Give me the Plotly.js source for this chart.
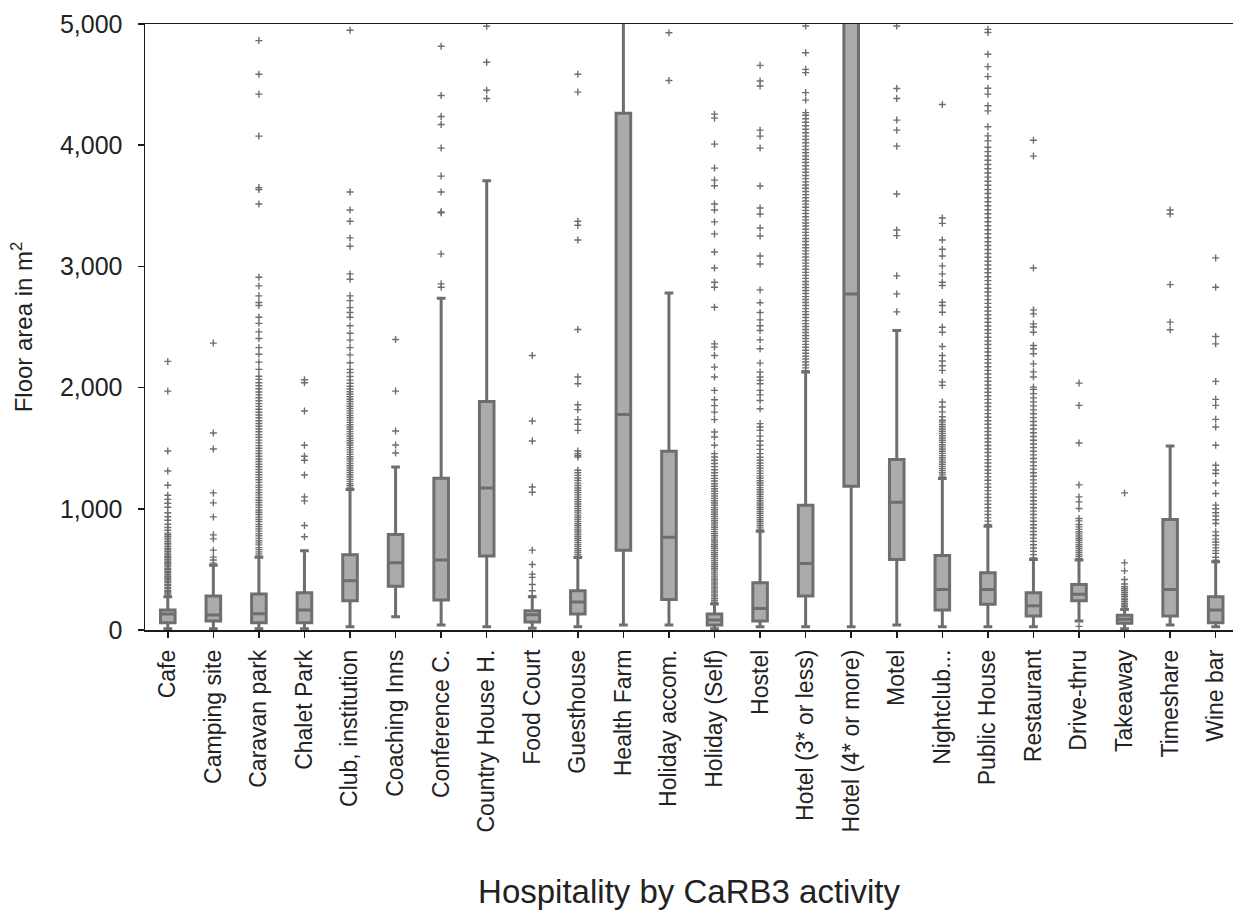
<!DOCTYPE html>
<html>
<head>
<meta charset="utf-8">
<script src="https://cdn.plot.ly/plotly-3.0.1.min.js"></script>
<style>
  html, body { margin: 0; padding: 0; background: #ffffff; }
  #chart { width: 1233px; height: 911px; }
</style>
</head>
<body>
<div id="chart"></div>
<script>
// Hospitality floor areas (m²) by CaRB3 activity: box summaries plus outliers.
const categories = ['Cafe', 'Camping site', 'Caravan park', 'Chalet Park', 'Club, institution',
  'Coaching Inns', 'Conference C.', 'Country House H.', 'Food Court', 'Guesthouse', 'Health Farm',
  'Holiday accom.', 'Holiday (Self)', 'Hostel', 'Hotel (3* or less)', 'Hotel (4* or more)', 'Motel',
  'Nightclub...', 'Public House', 'Restaurant', 'Drive-thru', 'Takeaway', 'Timeshare', 'Wine bar'];

const lowerFence = [10, 10, 10, 10, 27, 110, 41, 27, 15, 27, 41, 41, 10, 27, 27, 27, 41, 27, 27, 27, 74, 10, 41, 27];
const q1Values = [60, 74, 60, 60, 241, 362, 247, 610, 66, 132, 659, 252, 41, 74, 280, 1186, 582, 165, 212, 115, 241, 55, 115, 60];
const medianValues = [132, 124, 135, 165, 406, 554, 577, 1172, 126, 231, 1779, 766, 82, 178, 549, 2773, 1054, 335, 335, 200, 295, 88, 335, 165];
const q3Values = [165, 280, 297, 307, 620, 788, 1252, 1886, 159, 324, 4264, 1474, 132, 390, 1030, 5600, 1406, 615, 472, 307, 376, 121, 912, 275];
const upperFence = [275, 535, 600, 653, 1159, 1345, 2737, 3707, 275, 599, 9600, 2781, 214, 815, 2128, 11000, 2471, 1249, 857, 582, 577, 170, 1518, 563];

// Outliers per activity
const outCafe = [282, 296, 305, 318, 327, 341, 352, 366, 374, 389, 398, 412, 425, 437, 446, 459, 472, 484, 497, 508,
  521, 533, 547, 558, 569, 583, 596, 607, 621, 634, 648, 661, 673, 688, 702, 715, 729, 744, 758, 771, 786, 799,
  823, 846, 872, 905, 934, 968, 1013, 1046, 1078, 1112, 1194, 1312, 1477, 1971, 2216];
const outCamping = [552, 577, 601, 659, 752, 785, 933, 1049, 1131, 1494, 1625, 2367];
const outCaravan = [611, 628, 645, 663, 680, 702, 719, 737, 756, 778, 795, 816, 834, 853, 871, 894, 912, 931, 953,
  972, 990, 1012, 1031, 1052, 1070, 1093, 1115, 1134, 1156, 1177, 1195, 1218, 1240, 1259, 1281, 1302, 1324, 1347,
  1368, 1390, 1411, 1433, 1456, 1478, 1499, 1521, 1544, 1567, 1590, 1612, 1636, 1659, 1681, 1704, 1727, 1751,
  1774, 1797, 1821, 1845, 1868, 1892, 1916, 1940, 1964, 1990, 2015, 2040, 2068, 2094, 2150, 2210, 2275, 2330,
  2405, 2460, 2530, 2581, 2677, 2702, 2757, 2839, 2910, 3515, 3635, 3650, 4075, 4421, 4586, 4863];
const outChalet = [769, 862, 1065, 1098, 1279, 1400, 1433, 1524, 1807, 2040, 2065];
const outClub = [1172, 1190, 1207, 1226, 1243, 1262, 1281, 1299, 1318, 1337, 1355, 1374, 1393, 1411, 1430, 1449,
  1468, 1486, 1505, 1524, 1543, 1562, 1580, 1599, 1618, 1637, 1656, 1675, 1694, 1713, 1732, 1751, 1770, 1789,
  1808, 1827, 1846, 1866, 1885, 1904, 1924, 1945, 1966, 1988, 2011, 2036, 2062, 2091, 2124, 2150, 2205, 2270,
  2330, 2392, 2448, 2510, 2581, 2620, 2660, 2718, 2757, 2894, 2938, 3166, 3235, 3372, 3465, 3614, 4948];
const outCoaching = [1461, 1527, 1642, 1971, 2397];
const outConference = [2828, 2856, 3103, 3443, 3450, 3614, 3745, 3976, 4171, 4237, 4410, 4816];
const outCountryHouse = [4385, 4454, 4684, 4981];
const outFoodCourt = [280, 324, 376, 434, 461, 541, 659, 1137, 1180, 1559, 1724, 2265];
const outGuesthouse = [608, 624, 641, 657, 672, 690, 706, 723, 741, 757, 774, 790, 808, 825, 843, 860, 877, 895,
  913, 930, 948, 966, 984, 1003, 1021, 1040, 1058, 1077, 1096, 1115, 1134, 1153, 1172, 1192, 1212, 1233, 1254,
  1276, 1298, 1318, 1427, 1440, 1455, 1477, 1647, 1697, 1736, 1818, 1859, 2032, 2087, 2479, 3218, 3339, 3372,
  4438, 4586];
const outHealthFarm = [];
const outHolidayAccom = [4534, 4928];
const outHolidaySelf = [226, 241, 258, 273, 289, 306, 322, 339, 355, 372, 388, 405, 421, 438, 455, 471, 488, 505,
  522, 538, 555, 572, 589, 606, 623, 640, 657, 674, 691, 708, 726, 743, 760, 778, 795, 812, 830, 848, 865, 883,
  901, 919, 937, 955, 973, 992, 1010, 1029, 1048, 1067, 1086, 1105, 1125, 1145, 1165, 1186, 1207, 1229, 1251,
  1274, 1298, 1322, 1348, 1374, 1400, 1427, 1455, 1524, 1592, 1634, 1736, 1798, 1851, 1900, 1977, 2087, 2169,
  2265, 2334, 2361, 2663, 2828, 2869, 2987, 3119, 3268, 3367, 3465, 3515, 3666, 3712, 3811, 4009, 4223, 4256];
const outHostel = [826, 843, 860, 876, 893, 910, 927, 944, 961, 978, 996, 1013, 1031, 1048, 1066, 1084, 1102,
  1120, 1138, 1157, 1175, 1194, 1213, 1232, 1252, 1272, 1292, 1313, 1334, 1356, 1378, 1401, 1425, 1455, 1490,
  1524, 1560, 1600, 1647, 1675, 1703, 1826, 1894, 1940, 1977, 2032, 2060, 2087, 2128, 2202, 2320, 2394, 2471,
  2510, 2559, 2620, 2700, 2806, 3020, 3086, 3251, 3317, 3432, 3482, 3663, 3976, 4075, 4124, 4489, 4530, 4659];
const outHotel3 = [2140, 2163, 2187, 2211, 2236, 2259, 2284, 2308, 2333, 2357, 2381, 2405, 2430, 2455, 2479, 2504,
  2528, 2553, 2578, 2603, 2627, 2652, 2677, 2702, 2727, 2751, 2776, 2801, 2826, 2851, 2876, 2901, 2926, 2951,
  2977, 3002, 3027, 3052, 3078, 3103, 3128, 3154, 3179, 3205, 3230, 3256, 3281, 3307, 3333, 3358, 3384, 3410,
  3436, 3462, 3488, 3514, 3540, 3566, 3592, 3618, 3645, 3671, 3697, 3724, 3750, 3777, 3803, 3830, 3857, 3884,
  3911, 3938, 3965, 3992, 4020, 4047, 4075, 4103, 4131, 4160, 4189, 4218, 4247, 4269, 4372, 4434, 4599, 4626,
  4763, 4983];
const outHotel4 = [];
const outMotel = [2625, 2773, 2922, 3254, 3300, 3597, 3992, 4124, 4207, 4385, 4468, 4983];
const outNightclub = [1263, 1280, 1298, 1315, 1333, 1350, 1368, 1386, 1404, 1421, 1439, 1457, 1475, 1493, 1511,
  1529, 1548, 1566, 1584, 1603, 1621, 1640, 1658, 1677, 1696, 1715, 1730, 1760, 1800, 1840, 1881, 2018, 2047,
  2142, 2180, 2220, 2265, 2339, 2457, 2498, 2622, 2677, 2704, 2842, 2869, 2938, 3004, 3086, 3141, 3218, 3355,
  3399, 4336];
const outPublicHouse = [870, 898, 925, 953, 981, 1009, 1037, 1065, 1093, 1121, 1150, 1178, 1206, 1235, 1263, 1292,
  1320, 1349, 1378, 1406, 1435, 1464, 1493, 1522, 1551, 1580, 1609, 1638, 1667, 1697, 1726, 1755, 1785, 1814,
  1844, 1873, 1903, 1933, 1962, 1992, 2022, 2052, 2082, 2112, 2142, 2172, 2203, 2233, 2263, 2294, 2324, 2355,
  2385, 2416, 2447, 2477, 2508, 2539, 2570, 2601, 2632, 2663, 2695, 2726, 2757, 2789, 2820, 2852, 2883, 2915,
  2947, 2979, 3011, 3043, 3075, 3107, 3139, 3172, 3204, 3237, 3269, 3302, 3335, 3368, 3401, 3434, 3467, 3500,
  3534, 3567, 3601, 3635, 3669, 3703, 3737, 3771, 3806, 3841, 3876, 3911, 3947, 3983, 4036, 4077, 4152, 4283,
  4325, 4421, 4470, 4566, 4648, 4750, 4930, 4956];
const outRestaurant = [595, 622, 649, 676, 703, 731, 758, 786, 813, 841, 869, 897, 925, 953, 981, 1009, 1038, 1066,
  1095, 1123, 1152, 1181, 1210, 1239, 1268, 1297, 1327, 1356, 1386, 1415, 1445, 1475, 1505, 1535, 1566, 1596,
  1627, 1658, 1689, 1720, 1752, 1784, 1816, 1849, 1882, 1915, 1950, 1985, 2004, 2087, 2130, 2196, 2279, 2320,
  2347, 2457, 2500, 2526, 2608, 2641, 2987, 3910, 4041];
const outDriveThru = [30, 589, 606, 622, 639, 655, 672, 689, 706, 723, 740, 757, 775, 793, 811, 830, 851, 870, 900,
  920, 1002, 1057, 1098, 1197, 1543, 1853, 2037];
const outTakeaway = [178, 192, 206, 220, 234, 249, 263, 278, 293, 308, 324, 340, 357, 380, 417, 488, 554, 1131];
const outTimeshare = [2477, 2540, 2850, 3432, 3465];
const outWineBar = [575, 600, 632, 655, 678, 702, 726, 750, 780, 810, 879, 910, 940, 968, 1000, 1030, 1126, 1213,
  1291, 1320, 1359, 1524, 1675, 1738, 1853, 1903, 2051, 2361, 2422, 2828, 3070];

const outlierLists = [outCafe, outCamping, outCaravan, outChalet, outClub, outCoaching, outConference,
  outCountryHouse, outFoodCourt, outGuesthouse, outHealthFarm, outHolidayAccom, outHolidaySelf, outHostel,
  outHotel3, outHotel4, outMotel, outNightclub, outPublicHouse, outRestaurant, outDriveThru, outTakeaway,
  outTimeshare, outWineBar];

const yTicks = [0, 1000, 2000, 3000, 4000, 5000];

const boxLine = '#6e6e6e';
const boxFill = '#ababab';
const axisColor = '#1a1a1a';
const fontFamily = 'Liberation Sans, Arial, Helvetica, sans-serif';

// Flatten outliers into one marker trace positioned on the category axis
const outX = [];
const outY = [];
outlierLists.forEach((list, i) => {
  list.forEach(v => { outX.push(categories[i]); outY.push(v); });
});

const boxTrace = {
  type: 'box',
  x: categories,
  lowerfence: lowerFence,
  q1: q1Values,
  median: medianValues,
  q3: q3Values,
  upperfence: upperFence,
  boxpoints: false,
  width: 0.32,
  whiskerwidth: 0.6,
  fillcolor: boxFill,
  line: { color: boxLine, width: 3 },
  hoverinfo: 'skip',
  showlegend: false
};

const outlierTrace = {
  type: 'scatter',
  mode: 'markers',
  x: outX,
  y: outY,
  marker: {
    symbol: 'cross-thin',
    size: 5,
    color: boxLine,
    line: { color: boxLine, width: 1.4 }
  },
  cliponaxis: true,
  hoverinfo: 'skip',
  showlegend: false
};

const layout = {
  width: 1233,
  height: 911,
  margin: { l: 145, r: 0, t: 24, b: 281 },
  paper_bgcolor: '#ffffff',
  plot_bgcolor: '#ffffff',
  font: { family: fontFamily, color: '#222222' },
  showlegend: false,
  xaxis: {
    type: 'category',
    categoryorder: 'array',
    categoryarray: categories,
    range: [-0.5, 23.38],
    showgrid: false,
    zeroline: false,
    showline: true,
    mirror: true,
    linecolor: axisColor,
    linewidth: 1.5,
    ticks: 'outside',
    ticklen: 6,
    tickwidth: 1.5,
    tickcolor: axisColor,
    tickangle: -90,
    ticklabelstandoff: 3,
    tickfont: { family: fontFamily, size: 23, color: '#222222' },
    title: { text: 'Hospitality by CaRB3 activity', font: { family: fontFamily, size: 33, color: '#222222' }, standoff: 48 },
    automargin: false
  },
  yaxis: {
    range: [0, 5000],
    tickvals: yTicks,
    ticktext: yTicks.map(v => v.toLocaleString('en-US')),
    showgrid: false,
    zeroline: false,
    showline: true,
    mirror: false,
    linecolor: axisColor,
    linewidth: 1.5,
    ticks: 'outside',
    ticklen: 6,
    tickwidth: 1.5,
    tickcolor: axisColor,
    ticklabelstandoff: 10,
    tickfont: { family: fontFamily, size: 25, color: '#222222' },
    title: { text: 'Floor area in m<sup>2</sup>', font: { family: fontFamily, size: 24, color: '#222222' }, standoff: 20 },
    automargin: false
  }
};

Plotly.newPlot('chart', [boxTrace, outlierTrace], layout, { staticPlot: true, displayModeBar: false });
</script>
</body>
</html>
